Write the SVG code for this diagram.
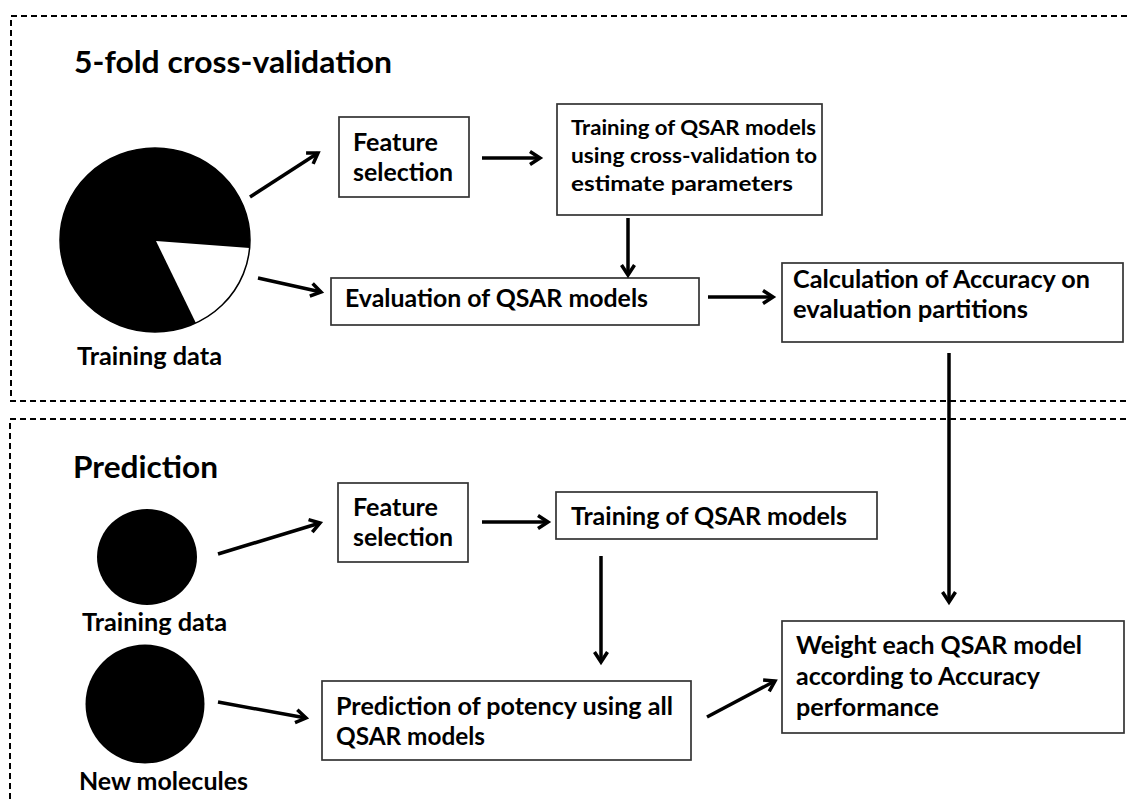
<svg xmlns="http://www.w3.org/2000/svg" width="1128" height="800" viewBox="0 0 1128 800">
<style>
.bg{fill:#ffffff}
.panel{fill:none;stroke:#000;stroke-width:1.3;stroke-dasharray:6 4;shape-rendering:crispEdges}
.box{fill:#ffffff;stroke:#333333;stroke-width:1.7}
.t{font-family:Lato,"Liberation Sans",sans-serif;font-weight:bold;fill:#000}
.title{font-size:30.5px}
.lbl{font-size:24px}
.bt{font-size:24.5px}
.bs{font-size:21.5px}
.conn{stroke:#000;stroke-width:3.5;fill:none;marker-end:url(#ah)}
</style>
<defs>
<marker id="ah" markerUnits="userSpaceOnUse" markerWidth="18" markerHeight="18" refX="12" refY="8" orient="auto" overflow="visible">
<path d="M2,1.5 L12,8 L2,14.5" fill="none" stroke="#000" stroke-width="3.5" stroke-linejoin="miter"/>
</marker>
</defs>
<rect class="bg" x="0" y="0" width="1128" height="800"/>
<rect class="panel" x="11" y="16" width="1200" height="385"/>
<rect class="panel" x="10" y="419" width="1200" height="500"/>
<text class="t title" x="74" y="73" textLength="318" lengthAdjust="spacingAndGlyphs">5-fold cross-validation</text>
<text class="t title" x="73" y="478" textLength="145" lengthAdjust="spacingAndGlyphs">Prediction</text>
<g id="pie-training">
<ellipse cx="155" cy="240" rx="95" ry="92" fill="#000"/>
<path d="M156,241 L249.6,248 A95,92 0 0,1 195.9,323 Z" fill="#fff"/>
<ellipse cx="155" cy="240" rx="95" ry="92" fill="none" stroke="#000" stroke-width="1.5"/>
<text class="t lbl" x="77" y="365" textLength="145" lengthAdjust="spacingAndGlyphs">Training data</text>
</g>
<g id="feature-top">
<rect class="box" x="339" y="117" width="130" height="80"/>
<text class="t bt" x="353" y="151" textLength="85" lengthAdjust="spacingAndGlyphs">Feature</text>
<text class="t bt" x="353" y="181" textLength="100" lengthAdjust="spacingAndGlyphs">selection</text>
</g>
<g id="training-cv">
<rect class="box" x="557" y="104" width="265" height="111"/>
<text class="t bs" x="571" y="135" textLength="245" lengthAdjust="spacingAndGlyphs">Training of QSAR models</text>
<text class="t bs" x="571" y="163" textLength="246" lengthAdjust="spacingAndGlyphs">using cross-validation to</text>
<text class="t bs" x="571" y="191" textLength="222" lengthAdjust="spacingAndGlyphs">estimate parameters</text>
</g>
<g id="evaluation">
<rect class="box" x="331" y="278" width="368" height="47"/>
<text class="t bt" x="345" y="307" textLength="303" lengthAdjust="spacingAndGlyphs">Evaluation of QSAR models</text>
</g>
<g id="calculation">
<rect class="box" x="782" y="263" width="341" height="79"/>
<text class="t bt" x="793" y="288" textLength="297" lengthAdjust="spacingAndGlyphs">Calculation of Accuracy on</text>
<text class="t bt" x="793" y="318" textLength="235" lengthAdjust="spacingAndGlyphs">evaluation partitions</text>
</g>
<g id="training-circle">
<ellipse cx="147" cy="557" rx="50" ry="48" fill="#000"/>
<text class="t lbl" x="82" y="631" textLength="145" lengthAdjust="spacingAndGlyphs">Training data</text>
</g>
<g id="new-molecules">
<ellipse cx="145" cy="704" rx="59.5" ry="59.5" fill="#000"/>
<text class="t lbl" x="79" y="790" textLength="169" lengthAdjust="spacingAndGlyphs">New molecules</text>
</g>
<g id="feature-bottom">
<rect class="box" x="338" y="483" width="130" height="79"/>
<text class="t bt" x="353" y="516" textLength="85" lengthAdjust="spacingAndGlyphs">Feature</text>
<text class="t bt" x="353" y="546" textLength="100" lengthAdjust="spacingAndGlyphs">selection</text>
</g>
<g id="training-final">
<rect class="box" x="556" y="492" width="321" height="47"/>
<text class="t bt" x="571" y="525" textLength="276" lengthAdjust="spacingAndGlyphs">Training of QSAR models</text>
</g>
<g id="prediction">
<rect class="box" x="322" y="681" width="369" height="79"/>
<text class="t bt" x="336" y="715" textLength="337" lengthAdjust="spacingAndGlyphs">Prediction of potency using all</text>
<text class="t bt" x="336" y="745" textLength="149" lengthAdjust="spacingAndGlyphs">QSAR models</text>
</g>
<g id="weight">
<rect class="box" x="782" y="621" width="342" height="112"/>
<text class="t bt" x="796" y="654" textLength="286" lengthAdjust="spacingAndGlyphs">Weight each QSAR model</text>
<text class="t bt" x="796" y="685" textLength="244" lengthAdjust="spacingAndGlyphs">according to Accuracy</text>
<text class="t bt" x="796" y="716" textLength="143" lengthAdjust="spacingAndGlyphs">performance</text>
</g>
<g id="connectors">
<line class="conn" x1="250" y1="197" x2="318" y2="153"/>
<line class="conn" x1="258" y1="278" x2="321" y2="292"/>
<line class="conn" x1="482" y1="158" x2="540" y2="158"/>
<line class="conn" x1="628" y1="218" x2="628" y2="275"/>
<line class="conn" x1="708" y1="297" x2="773" y2="297"/>
<line class="conn" x1="949" y1="353" x2="949" y2="602"/>
<line class="conn" x1="218" y1="554" x2="320" y2="523"/>
<line class="conn" x1="218" y1="702" x2="306" y2="718"/>
<line class="conn" x1="482" y1="522" x2="548" y2="522"/>
<line class="conn" x1="601" y1="556" x2="601" y2="662"/>
<line class="conn" x1="707" y1="717" x2="775" y2="681"/>
</g>
</svg>
